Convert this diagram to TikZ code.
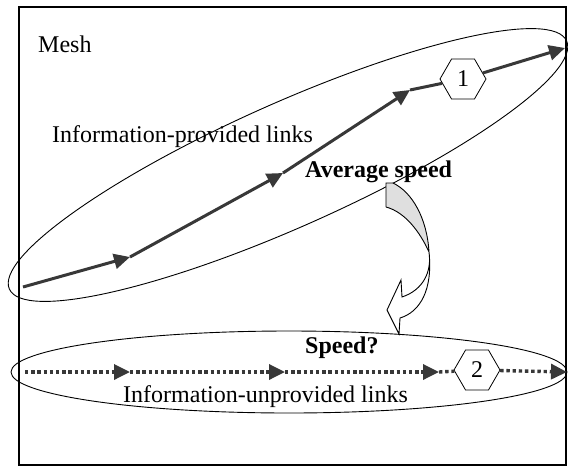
\documentclass[tikz,border=0pt]{standalone}
\usepackage{fontspec}
\setmainfont{Liberation Serif}
\usetikzlibrary{shapes.geometric, arrows.meta, positioning, calc}

\tikzset{
  link/.style={line width=3pt, draw=black!78, -{Triangle[length=16pt, width=15pt]}},
  nolink/.style={link, line width=3.4pt, dash pattern=on 3.4pt off 2.8pt},
  region/.style={line width=0.9pt},
  station/.style={regular polygon, regular polygon sides=6, draw, line width=0.8pt,
    minimum size=46pt, inner sep=0pt, font=\fontsize{24}{28}\selectfont},
  lbl/.style={anchor=base west, inner sep=0pt, font=\fontsize{24}{28}\selectfont},
  boldlbl/.style={lbl, font=\fontsize{24}{28}\selectfont\bfseries}
}

\begin{document}
\begin{tikzpicture}[x=1pt, y=-1pt]
\useasboundingbox (0,0) rectangle (568,467);
% frame
\draw[line width=1.2pt] (19,7) rectangle (566,465);
\node[lbl] (mesh) at (38,52) {Mesh};

% information-provided links
\draw[region, rotate around={24:(288,165)}] (288,165) ellipse [x radius=305, y radius=62];
\node[lbl] (provided) at (52,142) {Information-provided links};
\node[boldlbl] (avg) at (305,177) {Average speed};
\coordinate (p0) at (23,287);
\coordinate (p1) at (130,257);
\coordinate (p2) at (283,173);
\coordinate (p3) at (410,90);
\coordinate (p4) at (565,48);
\node[station] (s1) at (463,79) {1};
\draw[link] (p0) -- (p1);
\draw[link] (p1) -- (p2);
\draw[link] (p2) -- (p3);
\draw[link, -] (p3) -- (s1);
\draw[link] (s1) -- (p4);

% information-unprovided links
\draw[region] (289,372) ellipse [x radius=278, y radius=41];
\node[boldlbl] (spd) at (305,353) {Speed?};
\node[lbl] (unprovided) at (123,402) {Information-unprovided links};
\coordinate (q0) at (25,372);
\coordinate (q1) at (130,372);
\coordinate (q2) at (285,372);
\coordinate (q3) at (439,372);
\coordinate (q4) at (567,372);
\node[station] (s2) at (477,370) {2};
\draw[nolink] (q0) -- (q1);
\draw[nolink] (q1) -- (q2);
\draw[nolink] (q2) -- (q3);
\draw[nolink, -] (q3) -- (s2);
\draw[nolink] (s2) -- (q4);

% curved block arrow
\fill[gray!25] (386,183) -- (393,183) .. controls (412,192) and (427,218) .. (429,252)
  .. controls (420,232) and (405,212) .. (386,207) -- cycle;
\draw[line width=0.9pt, line join=miter]
  (386,207) -- (386,183) -- (393,183) .. controls (412,192) and (427,218) .. (429,252)
  .. controls (432,272) and (423,290) .. (402,297) -- (401,280) -- (387,310) -- (399,334)
  -- (400,318) .. controls (420,312) and (433,290) .. (429,252)
  .. controls (420,232) and (405,212) .. (386,207);
\end{tikzpicture}
\end{document}
